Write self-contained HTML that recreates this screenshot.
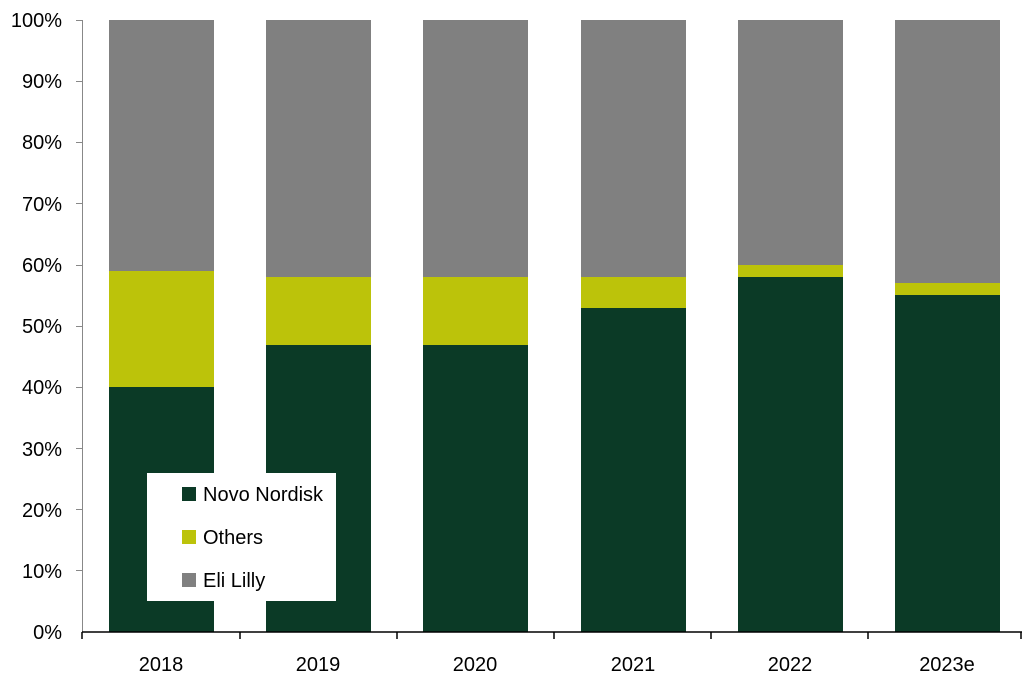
<!DOCTYPE html>
<html><head><style>body{margin:0;background:#fff}svg{display:block}text{font-family:"Liberation Sans",sans-serif;fill:#000}</style></head>
<body>
<svg width="1024" height="681" xmlns="http://www.w3.org/2000/svg">
<g font-size="20" text-anchor="end">
<text x="62" y="639">0%</text>
<text x="62" y="578">10%</text>
<text x="62" y="517">20%</text>
<text x="62" y="456">30%</text>
<text x="62" y="394">40%</text>
<text x="62" y="333">50%</text>
<text x="62" y="272">60%</text>
<text x="62" y="211">70%</text>
<text x="62" y="149">80%</text>
<text x="62" y="88">90%</text>
<text x="62" y="27">100%</text>
</g>
<g stroke="#888" stroke-width="1">
<line x1="82.5" y1="20" x2="82.5" y2="632"/>
<line x1="76" y1="20.5" x2="83" y2="20.5"/><line x1="76" y1="81.5" x2="83" y2="81.5"/><line x1="76" y1="142.5" x2="83" y2="142.5"/><line x1="76" y1="203.5" x2="83" y2="203.5"/><line x1="76" y1="265.5" x2="83" y2="265.5"/><line x1="76" y1="326.5" x2="83" y2="326.5"/><line x1="76" y1="387.5" x2="83" y2="387.5"/><line x1="76" y1="448.5" x2="83" y2="448.5"/><line x1="76" y1="509.5" x2="83" y2="509.5"/><line x1="76" y1="570.5" x2="83" y2="570.5"/>
</g>
<g>
<rect x="109" y="20" width="105" height="251" fill="#808080"/><rect x="109" y="271" width="105" height="116" fill="#bcc30a"/><rect x="109" y="387" width="105" height="245" fill="#0b3a26"/>
<rect x="266" y="20" width="105" height="257" fill="#808080"/><rect x="266" y="277" width="105" height="68" fill="#bcc30a"/><rect x="266" y="345" width="105" height="287" fill="#0b3a26"/>
<rect x="423" y="20" width="105" height="257" fill="#808080"/><rect x="423" y="277" width="105" height="68" fill="#bcc30a"/><rect x="423" y="345" width="105" height="287" fill="#0b3a26"/>
<rect x="581" y="20" width="105" height="257" fill="#808080"/><rect x="581" y="277" width="105" height="31" fill="#bcc30a"/><rect x="581" y="308" width="105" height="324" fill="#0b3a26"/>
<rect x="738" y="20" width="105" height="245" fill="#808080"/><rect x="738" y="265" width="105" height="12" fill="#bcc30a"/><rect x="738" y="277" width="105" height="355" fill="#0b3a26"/>
<rect x="895" y="20" width="105" height="263" fill="#808080"/><rect x="895" y="283" width="105" height="12" fill="#bcc30a"/><rect x="895" y="295" width="105" height="337" fill="#0b3a26"/>
</g>
<g stroke="#000" stroke-width="1.5">
<line x1="82" y1="632" x2="1022" y2="632"/>
<line x1="82" y1="632" x2="82" y2="639"/><line x1="240" y1="632" x2="240" y2="639"/><line x1="397" y1="632" x2="397" y2="639"/><line x1="554" y1="632" x2="554" y2="639"/><line x1="711" y1="632" x2="711" y2="639"/><line x1="868" y1="632" x2="868" y2="639"/><line x1="1021" y1="632" x2="1021" y2="639"/>
</g>
<g font-size="20" text-anchor="middle">
<text x="161" y="671">2018</text><text x="318" y="671">2019</text><text x="475" y="671">2020</text><text x="633" y="671">2021</text><text x="790" y="671">2022</text><text x="947" y="671">2023e</text>
</g>
<rect x="147" y="473" width="189" height="128" fill="#fff"/>
<rect x="182" y="487" width="14" height="14" fill="#0b3a26"/>
<rect x="182" y="530" width="14" height="14" fill="#bcc30a"/>
<rect x="182" y="573" width="14" height="14" fill="#808080"/>
<g font-size="20">
<text x="203" y="501">Novo Nordisk</text>
<text x="203" y="544">Others</text>
<text x="203" y="587">Eli Lilly</text>
</g>
</svg>
</body></html>
